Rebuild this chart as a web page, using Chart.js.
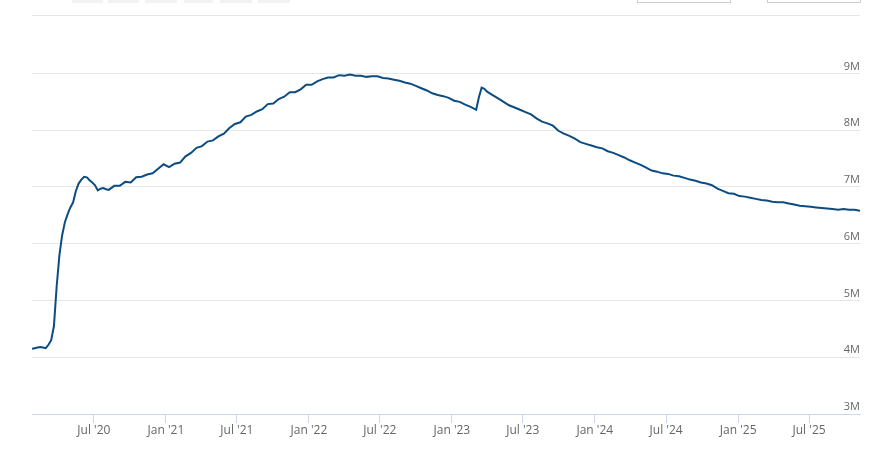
<!DOCTYPE html>
<html>
<head>
<meta charset="utf-8">
<script src="https://cdn.jsdelivr.net/npm/chart.js@4.4.1/dist/chart.umd.min.js"></script>
<style>
  html, body { margin: 0; padding: 0; background: #ffffff; }
  #wrap { width: 881px; height: 449px; position: relative; }
</style>
</head>
<body>
<div id="wrap"><canvas id="c" width="881" height="449"></canvas></div>
<script>
// ---- data (values in millions) ----
const dates = [
  '2020-01-25','2020-02-01','2020-02-08','2020-02-15','2020-02-22','2020-02-29','2020-03-07','2020-03-14',
  '2020-03-21','2020-03-28','2020-04-04','2020-04-11','2020-04-18','2020-04-25','2020-05-02','2020-05-09',
  '2020-05-16','2020-05-23','2020-05-30','2020-06-06','2020-06-13','2020-06-20','2020-06-27','2020-07-04',
  '2020-07-11','2020-07-18','2020-07-25','2020-08-01','2020-08-08','2020-08-22','2020-09-05','2020-09-19',
  '2020-10-03','2020-10-17','2020-10-31','2020-11-14','2020-11-28','2020-12-12','2020-12-26',
  '2021-01-09','2021-01-23','2021-02-06','2021-02-20','2021-03-06','2021-03-20','2021-04-03','2021-04-17',
  '2021-05-01','2021-05-15','2021-05-29','2021-06-12','2021-06-26','2021-07-10','2021-07-24','2021-08-07',
  '2021-08-21','2021-09-04','2021-09-18','2021-10-02','2021-10-16','2021-10-30','2021-11-13','2021-11-27',
  '2021-12-11','2021-12-25',
  '2022-01-08','2022-01-22','2022-02-05','2022-02-19','2022-03-05','2022-03-19','2022-04-02','2022-04-16',
  '2022-04-30','2022-05-14','2022-05-28','2022-06-11','2022-06-25','2022-07-09','2022-07-23','2022-08-06',
  '2022-08-20','2022-09-03','2022-09-17','2022-10-01','2022-10-15','2022-10-29','2022-11-12','2022-11-26',
  '2022-12-10','2022-12-24',
  '2023-01-07','2023-01-21','2023-02-04','2023-02-18','2023-03-04','2023-03-11','2023-03-18','2023-03-25',
  '2023-04-01','2023-04-15','2023-04-29','2023-05-13','2023-05-27','2023-06-10','2023-06-24','2023-07-08',
  '2023-07-22','2023-08-05','2023-08-19','2023-09-02','2023-09-16','2023-09-30','2023-10-14','2023-10-28',
  '2023-11-11','2023-11-25','2023-12-09','2023-12-23',
  '2024-01-06','2024-01-20','2024-02-03','2024-02-17','2024-03-02','2024-03-16','2024-03-30','2024-04-13',
  '2024-04-27','2024-05-11','2024-05-25','2024-06-08','2024-06-22','2024-07-06','2024-07-20','2024-08-03',
  '2024-08-17','2024-08-31','2024-09-14','2024-09-28','2024-10-12','2024-10-26','2024-11-09','2024-11-23',
  '2024-12-07','2024-12-21',
  '2025-01-04','2025-01-18','2025-02-01','2025-02-15','2025-03-01','2025-03-15','2025-03-29','2025-04-12',
  '2025-04-26','2025-05-10','2025-05-24','2025-06-07','2025-06-21','2025-07-05','2025-07-19','2025-08-02',
  '2025-08-16','2025-08-30','2025-09-13','2025-09-27','2025-10-11','2025-10-25','2025-11-08'
];
const values = [
  4.15,4.16,4.17,4.18,4.17,4.16,4.22,4.30,
  4.55,5.25,5.80,6.15,6.38,6.52,6.64,6.73,
  6.93,7.06,7.13,7.18,7.17,7.12,7.08,7.03,
  6.94,6.97,6.98,6.96,6.95,7.02,7.02,7.09,
  7.08,7.17,7.18,7.22,7.24,7.32,7.40,
  7.35,7.41,7.43,7.54,7.60,7.69,7.72,7.80,
  7.82,7.89,7.94,8.04,8.11,8.14,8.24,8.27,
  8.33,8.37,8.46,8.47,8.55,8.59,8.67,8.67,
  8.72,8.80,
  8.80,8.86,8.90,8.93,8.93,8.97,8.96,8.98,
  8.96,8.96,8.94,8.95,8.95,8.92,8.91,8.89,
  8.87,8.84,8.82,8.78,8.74,8.70,8.65,8.62,
  8.60,8.57,
  8.52,8.50,8.45,8.41,8.36,8.58,8.75,8.73,
  8.68,8.62,8.56,8.50,8.44,8.40,8.36,8.32,
  8.28,8.21,8.15,8.12,8.08,7.99,7.94,7.90,
  7.85,7.79,7.76,7.73,
  7.70,7.68,7.63,7.60,7.56,7.52,7.47,7.43,
  7.39,7.34,7.29,7.27,7.24,7.23,7.20,7.19,
  7.16,7.13,7.11,7.08,7.06,7.03,6.97,6.93,
  6.89,6.88,
  6.84,6.83,6.81,6.79,6.77,6.76,6.74,6.73,
  6.73,6.71,6.69,6.67,6.66,6.65,6.64,6.63,
  6.62,6.61,6.60,6.61,6.60,6.60,6.58
];
const yTickValues = [3, 4, 5, 6, 7, 8, 9];
const yTopValue = 10.03;   // top border of the plot
const xTickDates = ['2020-07-01','2021-01-01','2021-07-01','2022-01-01','2022-07-01','2023-01-01',
                    '2023-07-01','2024-01-01','2024-07-01','2025-01-01','2025-07-01'];
const monthNames = ['Jan','Feb','Mar','Apr','May','Jun','Jul','Aug','Sep','Oct','Nov','Dec'];

// ---- build ----
const toMs = s => Date.parse(s + 'T00:00:00Z');
const points = dates.map((d, i) => ({ x: toMs(d), y: values[i] }));
const xTicks = xTickDates.map(toMs);

const FAMILY = "'Open Sans', 'DejaVu Sans', sans-serif";

const decor = {
  id: 'decor',
  beforeDraw(chart) {
    const ctx = chart.ctx;
    ctx.save();
    ctx.fillStyle = '#ffffff';
    ctx.fillRect(0, 0, chart.width, chart.height);
    // cut-off range selector buttons
    ctx.fillStyle = '#f2f2f2';
    [[72,103],[108,139],[145,177],[184,213],[220,252],[258,290]].forEach(([a,b]) => {
      ctx.fillRect(a, 0, b - a, 3);
    });
    // cut-off date input boxes
    ctx.strokeStyle = '#cccccc';
    ctx.lineWidth = 1;
    [[637,730],[767,860]].forEach(([a,b]) => {
      ctx.strokeRect(a + 0.5, -5, b - a, 7.5);
    });
    ctx.restore();
  }
};

new Chart(document.getElementById('c'), {
  type: 'line',
  data: {
    datasets: [{
      data: points,
      borderColor: '#0d4c80',
      borderWidth: 2,
      pointRadius: 0,
      fill: false,
      tension: 0
    }]
  },
  options: {
    responsive: false,
    animation: false,
    layout: { padding: { top: 15, left: 32, right: 21, bottom: 0 } },
    plugins: { legend: { display: false }, tooltip: { enabled: false } },
    scales: {
      x: {
        type: 'linear',
        min: toMs(dates[0]),
        max: toMs(dates[dates.length - 1]),
        afterBuildTicks: s => { s.ticks = xTicks.map(v => ({ value: v })); },
        afterFit: s => { s.height = 35; },
        grid: { drawOnChartArea: false, drawTicks: true, tickLength: 9, color: '#ccd6eb' },
        border: { display: true, color: '#ccd6eb' },
        ticks: {
          autoSkip: false, maxRotation: 0, padding: 0, color: '#666666',
          font: { family: FAMILY, size: 12 },
          callback: v => {
            const d = new Date(v);
            return monthNames[d.getUTCMonth()] + " '" + String(d.getUTCFullYear()).slice(2);
          }
        }
      },
      y: {
        position: 'right',
        min: yTickValues[0],
        max: yTopValue,
        afterBuildTicks: s => { s.ticks = yTickValues.concat([yTopValue]).map(v => ({ value: v })); },
        afterFit: s => { s.width = 0; },
        grid: { color: '#e6e6e6', drawTicks: false },
        border: { display: false },
        ticks: {
          mirror: true, padding: 0, labelOffset: -7, color: '#666666',
          font: { family: FAMILY, size: 11 },
          callback: v => yTickValues.includes(v) ? v + 'M' : ''
        }
      }
    }
  },
  plugins: [decor]
});
</script>
</body>
</html>
